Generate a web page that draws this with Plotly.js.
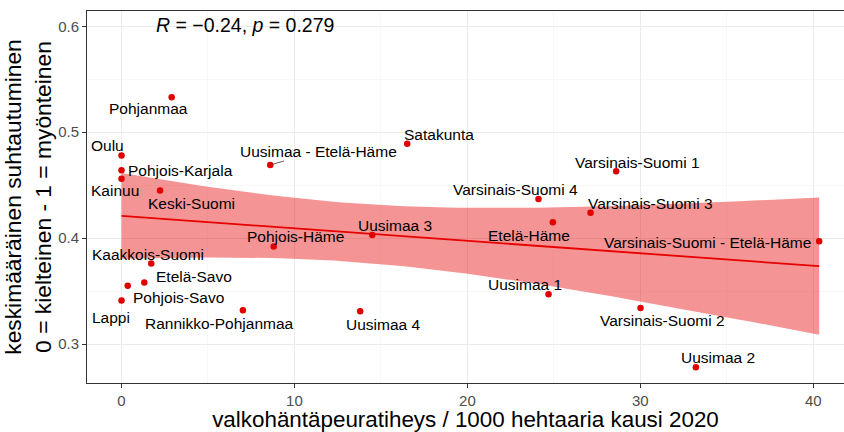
<!DOCTYPE html>
<html>
<head>
<meta charset="utf-8">
<script src="https://cdn.plot.ly/plotly-3.0.1.min.js"></script>
<style>html,body{margin:0;padding:0;background:#fff;}#chart{width:844px;height:432px;}</style>
</head>
<body>
<div id="chart"></div>
<script>
// ---- data ----
const regions = [
  "Pohjanmaa", "Oulu", "Pohjois-Karjala", "Kainuu", "Keski-Suomi",
  "Uusimaa - Etelä-Häme", "Satakunta", "Uusimaa 3", "Pohjois-Häme",
  "Kaakkois-Suomi", "Etelä-Savo", "Pohjois-Savo", "Lappi",
  "Rannikko-Pohjanmaa", "Uusimaa 4", "Varsinais-Suomi 1",
  "Varsinais-Suomi 4", "Etelä-Häme", "Varsinais-Suomi 3",
  "Varsinais-Suomi - Etelä-Häme", "Uusimaa 1", "Varsinais-Suomi 2", "Uusimaa 2"
];
const deerDensity = [
  2.90, 0.00, 0.00, 0.00, 2.23,
  8.60, 16.52, 14.50, 8.80,
  1.72, 1.32, 0.36, 0.00,
  7.02, 13.80, 28.60,
  24.11, 24.94, 27.12,
  40.34, 24.69, 30.01, 33.21
];
const attitude = [
  0.533, 0.478, 0.464, 0.456, 0.445,
  0.469, 0.489, 0.403, 0.392,
  0.376, 0.358, 0.355, 0.341,
  0.332, 0.331, 0.463,
  0.437, 0.415, 0.424,
  0.397, 0.347, 0.334, 0.278
];
const corR = "−0.24";
const corP = "0.279";
const xTickVals = [0, 10, 20, 30, 40];
const yTickVals = [0.3, 0.4, 0.5, 0.6];
const xTitle = "valkohäntäpeuratiheys / 1000 hehtaaria kausi 2020";
const yTitle = "keskimääräinen suhtautuminen<br>0 = kielteinen - 1 = myönteinen";

// label placement (pixel offsets from each point, ggrepel-like)
const labelDx = [-23, -14, 59, -7, 31, 48, 32, 23, 22, -3, 50, 51, -11, -23, 23, 21, -23, -24, 60, -112, -24, 22, 22];
const labelDy = [-11, 10, 0, -12, -13, 14, 9, 9, 10, 9, 6, -12, -17, -13, -13, 9, 9, -13, 9, -1, 10, -12, 10];
const segmentLabel = "Uusimaa - Etelä-Häme";

// ---- linear fit with 95% confidence band (as geom_smooth(method = "lm")) ----
const n = deerDensity.length;
const mx = deerDensity.reduce((a, b) => a + b, 0) / n;
const my = attitude.reduce((a, b) => a + b, 0) / n;
let sxx = 0, sxy = 0;
for (let i = 0; i < n; i++) {
  sxx += (deerDensity[i] - mx) ** 2;
  sxy += (deerDensity[i] - mx) * (attitude[i] - my);
}
const slope = sxy / sxx;
const intercept = my - slope * mx;
let sse = 0;
for (let i = 0; i < n; i++) sse += (attitude[i] - (intercept + slope * deerDensity[i])) ** 2;
const sRes = Math.sqrt(sse / (n - 2));
const tCrit = 2.0796; // qt(0.975, df = 21)
const xMin = Math.min(...deerDensity), xMax = Math.max(...deerDensity);
const fx = [], fy = [], lo = [], hi = [];
for (let k = 0; k < 80; k++) {
  const x = xMin + (xMax - xMin) * k / 79;
  const y = intercept + slope * x;
  const se = sRes * Math.sqrt(1 / n + (x - mx) ** 2 / sxx);
  fx.push(x); fy.push(y); lo.push(y - tCrit * se); hi.push(y + tCrit * se);
}

const FONT = "Liberation Sans, Arial, sans-serif";

const traces = [
  { x: fx, y: lo, type: "scatter", mode: "lines", line: { width: 0, color: "rgba(0,0,0,0)" },
    hoverinfo: "skip", showlegend: false },
  { x: fx, y: hi, type: "scatter", mode: "lines", line: { width: 0, color: "rgba(0,0,0,0)" },
    fill: "tonexty", fillcolor: "rgba(232,0,0,0.42)", hoverinfo: "skip", showlegend: false },
  { x: fx, y: fy, type: "scatter", mode: "lines", line: { width: 1.8, color: "#E60000" },
    hoverinfo: "skip", showlegend: false },
  { x: deerDensity, y: attitude, type: "scatter", mode: "markers", text: regions,
    marker: { size: 6.5, color: "#E00000" }, showlegend: false }
];

const annotations = regions.map((r, i) => {
  const a = {
    x: deerDensity[i], y: attitude[i], xref: "x", yref: "y", text: r,
    font: { family: FONT, size: 15.5, color: "#000" }, xanchor: "center", yanchor: "middle"
  };
  if (r === segmentLabel) {
    Object.assign(a, { showarrow: true, arrowhead: 0, arrowwidth: 0.8, arrowcolor: "#333",
      ax: labelDx[i], ay: -labelDy[i], standoff: 2 });
  } else {
    Object.assign(a, { showarrow: false, xshift: labelDx[i], yshift: labelDy[i] });
  }
  return a;
});
annotations.push({
  x: 1.9, y: 0.6015, xref: "x", yref: "y", xanchor: "left", yanchor: "middle", showarrow: false,
  text: "<i>R</i> = " + corR + ", <i>p</i> = " + corP,
  font: { family: FONT, size: 19.5, color: "#000" }
});

const layout = {
  width: 844, height: 432,
  margin: { l: 87, r: 0, t: 11, b: 49, pad: 0 },
  paper_bgcolor: "#fff", plot_bgcolor: "#fff",
  font: { family: FONT },
  showlegend: false,
  xaxis: {
    range: [-1.995, 41.775], tickvals: xTickVals, ticktext: xTickVals.map(String),
    showgrid: true, gridcolor: "#EBEBEB", gridwidth: 1,
    minor: { tickvals: [5, 15, 25, 35], showgrid: true, gridcolor: "#F3F3F3", gridwidth: 0.6, ticks: "" },
    zeroline: false, showline: true, mirror: true, linecolor: "#333", linewidth: 1,
    ticks: "outside", ticklen: 4, tickcolor: "#333", tickwidth: 1,
    tickfont: { family: FONT, size: 15, color: "#4D4D4D" },
    title: { text: xTitle, font: { family: FONT, size: 22.4, color: "#000" }, standoff: 8 },
    automargin: false
  },
  yaxis: {
    range: [0.2632, 0.6144], tickvals: yTickVals, ticktext: yTickVals.map(v => v.toFixed(1)),
    showgrid: true, gridcolor: "#EBEBEB", gridwidth: 1,
    minor: { tickvals: [0.35, 0.45, 0.55], showgrid: true, gridcolor: "#F3F3F3", gridwidth: 0.6, ticks: "" },
    zeroline: false, showline: true, mirror: false, linecolor: "#333", linewidth: 1,
    ticks: "outside", ticklen: 4, tickcolor: "#333", tickwidth: 1,
    tickfont: { family: FONT, size: 15, color: "#4D4D4D" },
    title: { text: yTitle, font: { family: FONT, size: 22.8, color: "#000" }, standoff: 0 },
    automargin: false
  },
  annotations: annotations
};

Plotly.newPlot("chart", traces, layout, { staticPlot: true, displayModeBar: false });
</script>
</body>
</html>
